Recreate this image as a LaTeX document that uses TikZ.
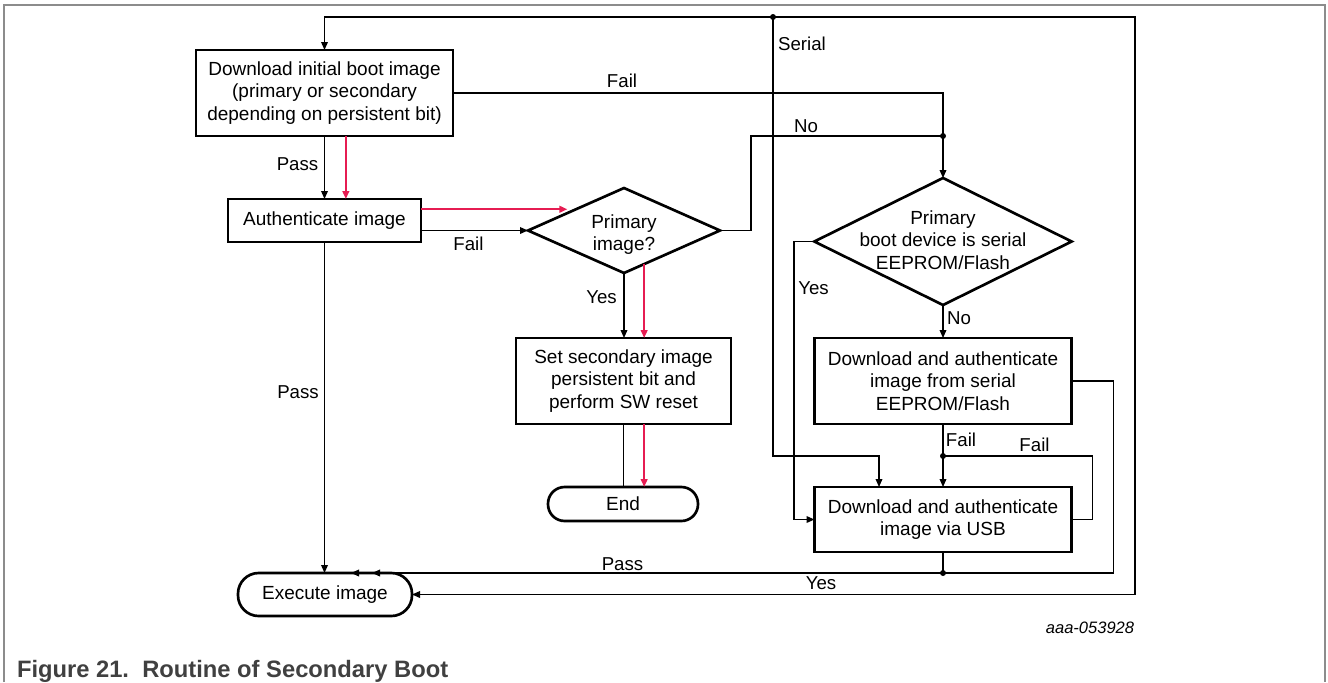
\documentclass[tikz,border=0pt]{standalone}
\usepackage{fontspec}
\setmainfont{Liberation Sans}
\usetikzlibrary{arrows.meta,shapes.geometric,calc}
\definecolor{flowred}{RGB}{230,28,82}
\definecolor{framegray}{RGB}{140,140,140}
\definecolor{captiongray}{RGB}{64,64,64}

\begin{document}
\begin{tikzpicture}[x=0.75pt,y=-0.75pt,
  every node/.style={font=\fontsize{14.25}{16.9}\selectfont, inner sep=0pt, outer sep=0pt},
  >={Triangle[length=6pt,width=5pt]},
  box/.style={draw, line width=2pt, rectangle, align=center},
  term/.style={draw, line width=2pt, rectangle, align=center},
  decision/.style={draw, line width=2pt, diamond},
  conn/.style={line width=1pt},
  redarr/.style={draw=flowred, line width=1.5pt, ->},
  dot/.style={circle, fill, inner sep=0pt, minimum size=4.5pt},
  lbl/.style={anchor=base, font=\fontsize{14}{16}\selectfont}
]
\useasboundingbox (0,0) rectangle (1328,682);

% open figure frame
\draw[framegray, line width=0.9pt] (4,682) -- (4,5) -- (1325,5) -- (1325,682);

% process boxes
\node[box, minimum width=192.75pt, minimum height=64.5pt] (dl) at (324.5,93)
  {Download initial boot image\\(primary or secondary\\depending on persistent bit)};
\node[box, minimum width=144.75pt, minimum height=32.25pt] (auth) at (324.5,220.5)
  {Authenticate image};
\node[decision, minimum width=144pt, minimum height=63.75pt,
  label={[align=center,yshift=-3pt]center:Primary\\image?}] (d1) at (624,230.5) {};
\node[box, minimum width=161.25pt, minimum height=64.5pt] (set) at (623.5,381)
  {Set secondary image\\persistent bit and\\perform SW reset};
\node[term, rounded corners=12.5pt, minimum width=112.5pt, minimum height=25.5pt] (stop) at (623,504)
  {End};
\node[term, rounded corners=15.5pt, minimum width=130.5pt, minimum height=32.25pt] (exec) at (325,594.5)
  {Execute image};
\node[decision, minimum width=193pt, minimum height=95.25pt,
  label={[align=center,yshift=1.25pt]center:Primary\\boot device is serial\\EEPROM/Flash}] (d2) at (943,241.5) {};
\node[box, minimum width=192.75pt, minimum height=64.5pt] (ser) at (943,381)
  {Download and authenticate\\image from serial\\EEPROM/Flash};
\node[box, minimum width=192.75pt, minimum height=48.75pt] (usb) at (943,519.5)
  {Download and authenticate\\image via USB};

% junction dots
\node[dot] (j1) at (773,17) {};
\node[dot] (j2) at (943,136) {};
\node[dot] (j3) at (943,456) {};
\node[dot] (j4) at (943,573) {};
\coordinate (cR) at (1135,17);

% return loop to the first download and to execution
\draw[conn,<->] (exec.east) -- (exec.east -| cR) -- (cR) -| (dl.north);
% serial branch
\draw[conn,->] (j1.center) -- (j1.center |- j3.center) -| ([xshift=-48pt]usb.north);
% first download fails
\draw[conn,->] (dl.east) -| (d2.north);
% primary image? no
\draw[conn] (d1.east) -- ++(31,0) |- (j2.center);

% download -> authenticate
\draw[conn,->] (dl.south) -- (auth.north);
\draw[redarr] ([xshift=16pt]dl.south) -- ([xshift=16pt]auth.north);

% authenticate -> primary image?
\coordinate (dnw) at ($(d1.west)!0.5!(d1.north)$);
\draw[redarr, shorten >=6.5pt] (auth.east |- dnw) -- (dnw);
\draw[conn,->] (auth.east |- d1.west) -- (d1.west);

% primary image? yes -> set secondary
\coordinate (rc) at ($(d1.south)!0.21!(d1.east)$);
\draw[conn,->] (d1.south) -- (d1.south |- set.north);
\draw[redarr] (rc) -- (rc |- set.north);

% set secondary -> end
\draw[conn] (set.south) -- (set.south |- stop.north);
\draw[redarr] (rc |- set.south) -- (rc |- stop.north);

% authenticate pass -> execute
\draw[conn,->] (auth.south) -- (auth.south |- exec.north);

% serial device decision
\draw[conn,->] (d2.west) -- ++(-20.5,0) |- (usb.west);
\draw[conn,->] (d2.south) -- (ser.north);

% serial download fails -> USB
\draw[conn,->] (ser.south) -- (usb.north);
% USB fails -> retry
\draw[conn] (usb.east) -- ++(21,0) |- (j3.center);

% successful downloads -> execute
\draw[conn,->] (ser.east) -- ++(42,0) |- ([xshift=19.5pt]exec.north);
\draw[conn,->] (usb.south) -- (j4.center) -- ([xshift=35.25pt]exec.north);

% connector labels
\node[lbl] (tPass1) at (297.5,170) {Pass};
\node[lbl] (tFail1) at (622,87) {Fail};
\node[lbl] (tNo1) at (806,132) {No};
\node[lbl] (tSerial) at (802,50) {Serial};
\node[lbl] (tFail2) at (468.5,250) {Fail};
\node[lbl] (tYes1) at (601.5,303) {Yes};
\node[lbl] (tPass2) at (298,398) {Pass};
\node[lbl] (tYes2) at (813.5,294) {Yes};
\node[lbl] (tNo2) at (959,324) {No};
\node[lbl] (tFail3) at (961,446) {Fail};
\node[lbl] (tFail4) at (1034.5,451) {Fail};
\node[lbl] (tPass3) at (622.5,570) {Pass};
\node[lbl] (tYes3) at (821,589) {Yes};

% figure id and caption
\node[anchor=base, font=\fontsize{12.4}{14}\selectfont\itshape] (fid) at (1090,633) {aaa-053928};
\node[anchor=base west, text=captiongray, font=\fontsize{17.8}{20}\selectfont\bfseries] (cap) at (17,677)
  {Figure 21.\ \ Routine of Secondary Boot};
\end{tikzpicture}
\end{document}
